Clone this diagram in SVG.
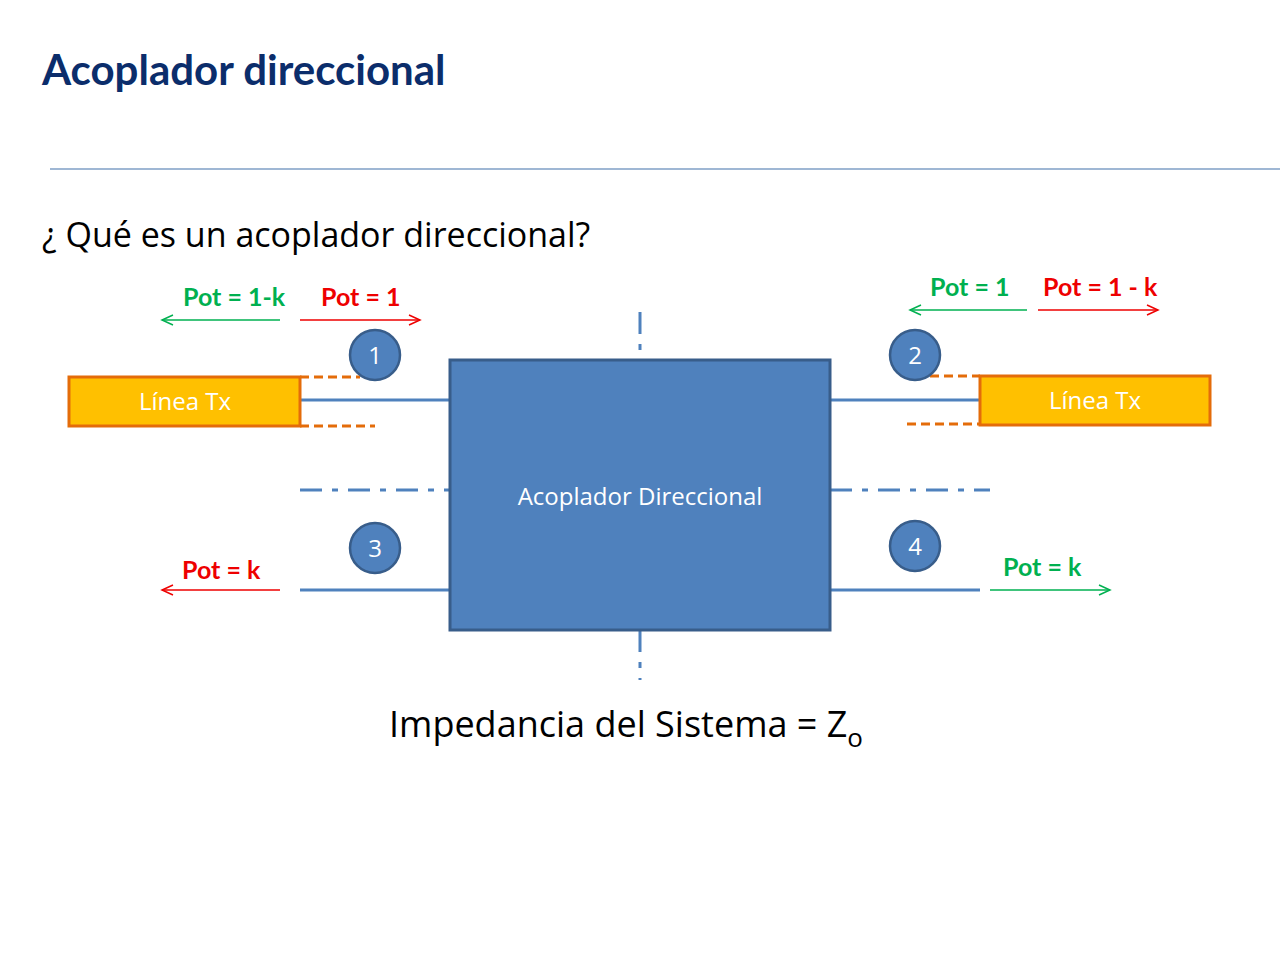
<svg xmlns="http://www.w3.org/2000/svg" width="1280" height="960" viewBox="0 0 1280 960">
<style>
text{font-family:"Open Sans","Liberation Sans",sans-serif}
.pot{font-family:"Lato","Liberation Sans",sans-serif;font-weight:bold;font-size:25px}
.g{fill:#00b050}.r{fill:#ee0000}
.wire{stroke:#4f81bd;stroke-width:3;fill:none}
.dash{stroke:#e46c0a;stroke-width:3;stroke-dasharray:9,5;fill:none}
.dd{stroke:#4f81bd;stroke-width:3;stroke-dasharray:22,10,6,10;fill:none}
.tx{fill:#ffc000;stroke:#e46c0a;stroke-width:3}
.port{fill:#4f81bd;stroke:#385d8a;stroke-width:2.5}
.pl{fill:#fff;font-size:24px;text-anchor:middle}
</style>
<defs>
<marker id="ag" markerWidth="14" markerHeight="12" refX="12" refY="6" orient="auto" markerUnits="userSpaceOnUse"><path d="M1,1 L12,6 L1,11" fill="none" stroke="#00b050" stroke-width="1.5"/></marker>
<marker id="ar" markerWidth="14" markerHeight="12" refX="12" refY="6" orient="auto" markerUnits="userSpaceOnUse"><path d="M1,1 L12,6 L1,11" fill="none" stroke="#ee0000" stroke-width="1.5"/></marker>
</defs>
<rect width="1280" height="960" fill="#fff"/>
<text x="42" y="85" font-family="Lato,'Liberation Sans',sans-serif" font-weight="bold" font-size="42" fill="#0b2d6b" style="font-family:Lato,'Liberation Sans',sans-serif">Acoplador direccional</text>
<line x1="50" y1="169" x2="1280" y2="169" stroke="#7f9fc6" stroke-width="1.5"/>
<text x="42" y="247" font-size="34" fill="#000">¿ Qué es un acoplador direccional?</text>
<g id="connectors">
<line class="wire" x1="300" y1="400" x2="450" y2="400"/>
<line class="wire" x1="830" y1="400" x2="980" y2="400"/>
<line class="wire" x1="300" y1="590" x2="450" y2="590"/>
<line class="wire" x1="830" y1="590" x2="980" y2="590"/>
<line class="dash" x1="300" y1="377" x2="360" y2="377"/>
<line class="dash" x1="300" y1="426" x2="375" y2="426"/>
<line class="dash" x1="930" y1="376" x2="980" y2="376"/>
<line class="dash" x1="907" y1="424" x2="980" y2="424"/>
<line class="dd" x1="300" y1="490" x2="450" y2="490"/>
<line class="dd" x1="830" y1="490" x2="990" y2="490"/>
<line class="dd" x1="640" y1="312" x2="640" y2="360" stroke-dasharray="22,10,6,10"/>
<line class="dd" x1="640" y1="630" x2="640" y2="680" stroke-dasharray="6,10,22,10"/>
<line x1="280" y1="320" x2="162" y2="320" stroke="#00b050" stroke-width="1.5" marker-end="url(#ag)"/>
<line x1="300" y1="320" x2="420" y2="320" stroke="#ee0000" stroke-width="1.5" marker-end="url(#ar)"/>
<line x1="1027" y1="310" x2="910" y2="310" stroke="#00b050" stroke-width="1.5" marker-end="url(#ag)"/>
<line x1="1038" y1="310" x2="1158" y2="310" stroke="#ee0000" stroke-width="1.5" marker-end="url(#ar)"/>
<line x1="280" y1="590" x2="162" y2="590" stroke="#ee0000" stroke-width="1.5" marker-end="url(#ar)"/>
<line x1="990" y1="590" x2="1110" y2="590" stroke="#00b050" stroke-width="1.5" marker-end="url(#ag)"/>
</g>
<g id="coupler"><rect x="450" y="360" width="380" height="270" fill="#4f81bd" stroke="#385d8a" stroke-width="3"/><text class="pl" x="640" y="505">Acoplador Direccional</text></g>
<g id="tx1"><rect class="tx" x="69" y="377" width="231" height="49"/><text class="pl" x="185" y="410">Línea Tx</text></g>
<g id="tx2"><rect class="tx" x="980" y="376" width="230" height="49"/><text class="pl" x="1095" y="409">Línea Tx</text></g>
<g id="p1"><circle class="port" cx="375" cy="355" r="25"/><text class="pl" x="375" y="364">1</text></g>
<g id="p2"><circle class="port" cx="915" cy="355" r="25"/><text class="pl" x="915" y="364">2</text></g>
<g id="p3"><circle class="port" cx="375" cy="548" r="25"/><text class="pl" x="375" y="557">3</text></g>
<g id="p4"><circle class="port" cx="915" cy="546" r="25"/><text class="pl" x="915" y="555">4</text></g>
<text class="pot g" x="183" y="306">Pot = 1-k</text>
<text class="pot r" x="321" y="306">Pot = 1</text>
<text class="pot g" x="930" y="296">Pot = 1</text>
<text class="pot r" x="1043" y="296">Pot = 1 - k</text>
<text class="pot r" x="182" y="579">Pot = k</text>
<text class="pot g" x="1003" y="576">Pot = k</text>
<text x="389" y="737" font-size="36" fill="#000">Impedancia del Sistema = Z<tspan font-size="26" dy="10">o</tspan></text>
</svg>
